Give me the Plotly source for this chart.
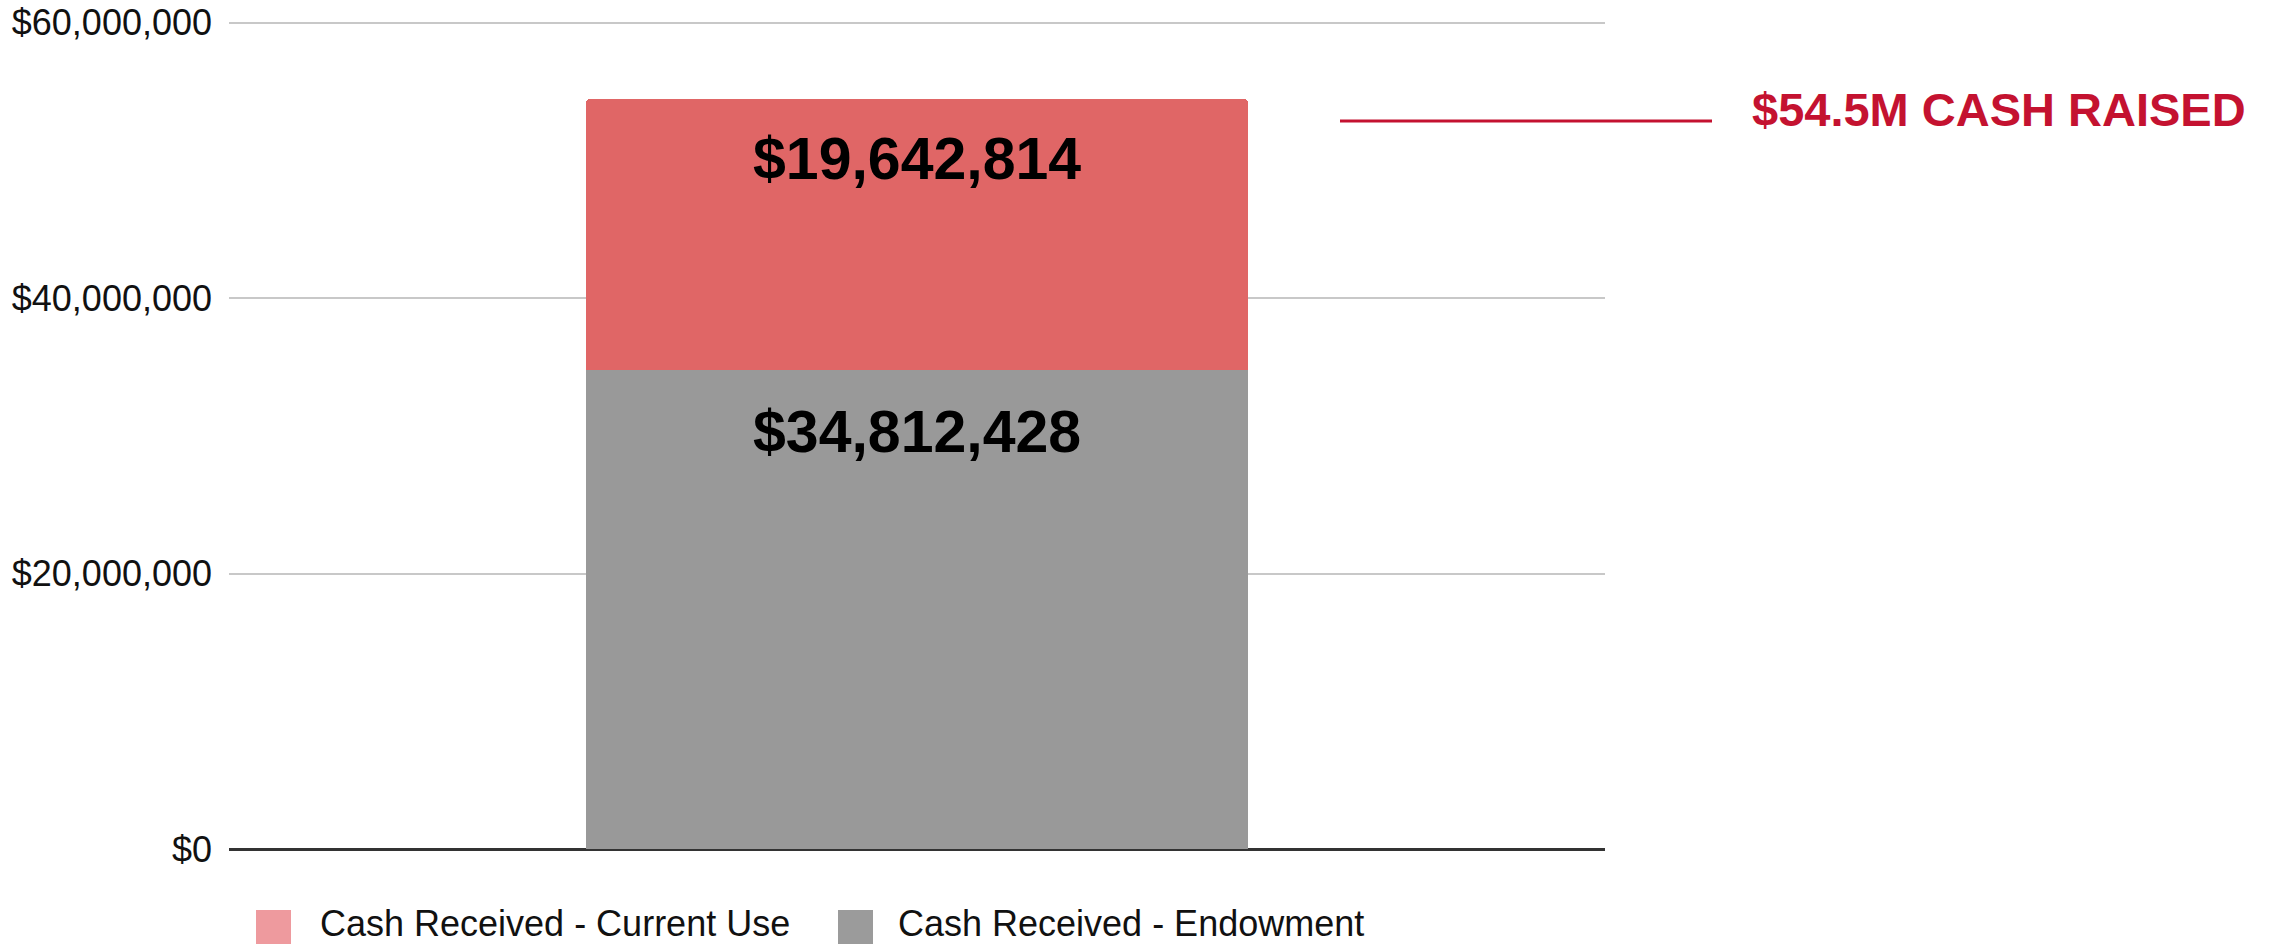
import plotly.graph_objects as go

# Campaign cash totals
categories = ["Cash Raised"]
series_names = ["Cash Received - Current Use", "Cash Received - Endowment"]
current_use = [19642814]
endowment = [34812428]
tick_values = [0, 20000000, 40000000, 60000000]

BAR_COLORS = {"Cash Received - Endowment": "#999999",
              "Cash Received - Current Use": "#E06666"}
SWATCH_COLORS = {"Cash Received - Endowment": "#9B9B9B",
                 "Cash Received - Current Use": "#EE9A9E"}
ACCENT = "#C41230"
FONT = "Liberation Sans, Arial, sans-serif"

# plot-area geometry in pixels
W, H = 2285, 944
L, R, T, B = 229, 680, 20, 95
PW, PH = W - L - R, H - T - B


def px_x(x):
    return (x - L) / PW


def px_y(y):
    return (H - B - y) / PH


fig = go.Figure()
fig.add_trace(go.Bar(x=categories, y=endowment, name=series_names[1],
                     marker=dict(color=BAR_COLORS[series_names[1]], line_width=0),
                     width=0.481, showlegend=False))
fig.add_trace(go.Bar(x=categories, y=current_use, name=series_names[0],
                     marker=dict(color=BAR_COLORS[series_names[0]], line_width=0),
                     width=0.481, showlegend=False))

# value labels near the top of each segment
label_font = dict(family=FONT, size=59, color="#000000")
bottom_top = endowment[0]
stack_top = endowment[0] + current_use[0]
for top, val, shift in [(stack_top, current_use[0], -60), (bottom_top, endowment[0], -62)]:
    fig.add_annotation(x=categories[0], y=top, xref="x", yref="y",
                       text=f"<b>${val:,}</b>", showarrow=False,
                       yanchor="middle", yshift=shift, font=label_font)

# total callout
total = current_use[0] + endowment[0]
fig.add_shape(type="line", xref="paper", yref="paper",
              x0=px_x(1340), x1=px_x(1712), y0=px_y(121), y1=px_y(121),
              line=dict(color=ACCENT, width=3))
fig.add_annotation(xref="paper", yref="paper", x=px_x(1750), y=px_y(109),
                   xanchor="left", yanchor="middle", showarrow=False,
                   text=f"<b>${total / 1e6:.1f}M CASH RAISED</b>",
                   font=dict(family=FONT, size=47, color=ACCENT))

# legend row
legend_items = [(series_names[0], 256, 318), (series_names[1], 838, 896)]
for name, sx, tx in legend_items:
    fig.add_shape(type="rect", xref="paper", yref="paper",
                  x0=px_x(sx), x1=px_x(sx + 35), y0=px_y(910), y1=px_y(945),
                  fillcolor=SWATCH_COLORS[name], line=dict(width=0))
    fig.add_annotation(xref="paper", yref="paper", x=px_x(tx), y=px_y(923),
                       xanchor="left", yanchor="middle", showarrow=False,
                       text=name, font=dict(family=FONT, size=36, color="#111111"))

fig.update_layout(
    width=W, height=H,
    margin=dict(l=L, r=R, t=T, b=B, pad=0, autoexpand=False),
    barmode="stack",
    barcornerradius=4,
    plot_bgcolor="#FFFFFF", paper_bgcolor="#FFFFFF",
    font=dict(family=FONT, size=36, color="#111111"),
    showlegend=False,
    xaxis=dict(showticklabels=False, showgrid=False, zeroline=False,
               range=[-0.5, 0.5], fixedrange=True, automargin=False),
    yaxis=dict(range=[0, 60200000], tickvals=tick_values, tickformat="$,.0f",
               showgrid=True, gridcolor="#C8C8C8", gridwidth=2,
               zeroline=True, zerolinecolor="#333333", zerolinewidth=3,
               ticks="", ticklabelstandoff=16, automargin=False,
               tickfont=dict(family=FONT, size=36, color="#111111")),
)

fig.write_html("out.html")
